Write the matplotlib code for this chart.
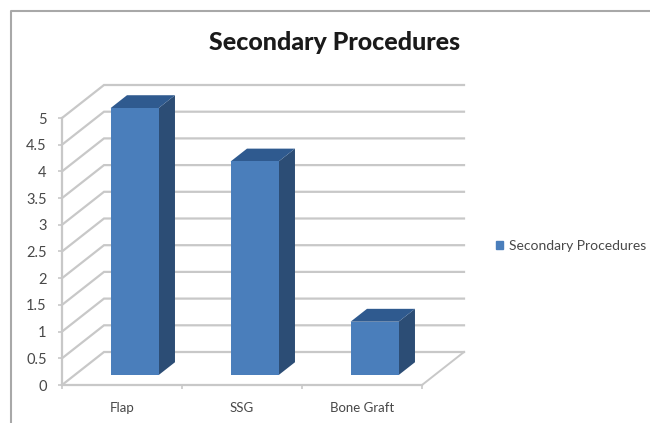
import matplotlib
matplotlib.use('Agg')
import matplotlib.pyplot as plt

categories = ['Flap', 'SSG', 'Bone Graft']
values = [5, 4, 1]
yticks = [0, 0.5, 1, 1.5, 2, 2.5, 3, 3.5, 4, 4.5, 5]
yticklabels = ['0', '0.5', '1', '1.5', '2', '2.5', '3', '3.5', '4', '4.5', '5']
title = 'Secondary Procedures'

W, H = 650, 423
bar_front = '#4a7ebb'
bar_side = '#2c4d75'
bar_top = '#2f5a8f'
grid_col = '#c8c8c8'
text_col = '#484848'

plt.rcParams['font.family'] = ['Lato', 'DejaVu Sans']

fig = plt.figure(figsize=(W / 100, H / 100), dpi=100, facecolor='white')
ax = fig.add_axes([62 / W, 1 - 385 / H, 360 / W, 267 / H])
ax.set_xlim(-0.5, 2.5)
ax.set_ylim(0, 5)

# oblique offset of the back wall, in data units
dx = 0.35
dy = 0.618

# back wall gridlines, side wall and floor
for t in yticks:
    ax.plot([-0.5, -0.5 + dx, 2.5 + dx], [t, t + dy, t + dy], color=grid_col, lw=1.6,
            clip_on=False, zorder=1, solid_joinstyle='miter')
ax.plot([2.5, 2.5 + dx], [0, dy], color=grid_col, lw=1.4, clip_on=False, zorder=1)

# 3d bars sit partway into the depth
near = 0.3
far = 0.69
width = 0.4
for i, v in enumerate(values):
    x0 = i - width / 2 + near * dx
    x1 = i + width / 2 + near * dx
    y0 = near * dy
    y1 = v + near * dy
    ox = (far - near) * dx
    oy = (far - near) * dy
    ax.fill([x1, x1 + ox, x1 + ox, x1], [y0, y0 + oy, y1 + oy, y1], color=bar_side, lw=0,
            clip_on=False, zorder=3)
    ax.fill([x0, x1, x1 + ox, x0 + ox], [y1, y1, y1 + oy, y1 + oy], color=bar_top, lw=0,
            clip_on=False, zorder=3)
    ax.fill([x0, x1, x1, x0], [y0, y0, y1, y1], color=bar_front, lw=0, clip_on=False, zorder=4)

for s in ['top', 'right']:
    ax.spines[s].set_visible(False)
for s in ['left', 'bottom']:
    ax.spines[s].set_color(grid_col)
    ax.spines[s].set_linewidth(1.6)

ax.set_yticks(yticks)
ax.set_yticklabels(yticklabels, fontsize=10.5, color=text_col)
ax.set_xticks(range(len(categories)))
ax.set_xticklabels(categories, fontsize=9.5, color=text_col)
ax.set_xticks([-0.5, 0.5, 1.5, 2.5], minor=True)
ax.tick_params(axis='y', length=3, width=1.2, color=grid_col, pad=8)
ax.tick_params(axis='x', which='major', length=0, pad=12)
ax.tick_params(axis='x', which='minor', length=3, width=1.2, color=grid_col)

fig.text(335 / W, 1 - 43 / H, title, fontsize=18, fontweight='black', color='#1a1a1a',
         ha='center', va='center')

# legend
handle = plt.Rectangle((0, 0), 1, 1, color=bar_front)
fig.legend([handle], [title], loc='center left', bbox_to_anchor=(496 / W, 1 - 246 / H),
           frameon=False, fontsize=10, labelcolor=text_col, handlelength=0.5, handleheight=0.5,
           handletextpad=0.43, borderpad=0, borderaxespad=0)

# outer chart frame, open on the right and bottom
fig.add_artist(plt.Line2D([11 / W, 11 / W, 1], [0, 1 - 11 / H, 1 - 11 / H], color='#a8a8a8', lw=1.5))

fig.savefig('out.png', dpi=100)
